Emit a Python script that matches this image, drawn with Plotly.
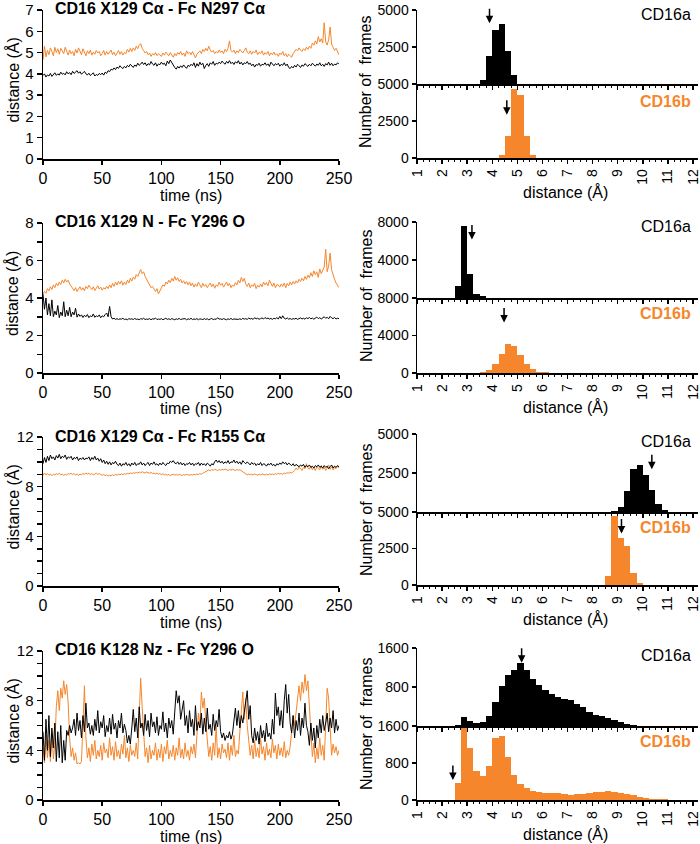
import plotly.graph_objects as go

W, H = 700, 844
FONT = "Liberation Sans, Arial, Helvetica, sans-serif"
BLACK = "#000000"
ORANGE = "#F5862B"

# ---------------- panel titles ----------------
titles = ["CD16 X129 Cα - Fc N297 Cα",
          "CD16 X129 N - Fc Y296 O",
          "CD16 X129 Cα - Fc R155 Cα",
          "CD16 K128 Nz - Fc Y296 O"]

# ---------------- time series (distance, Å; evenly sampled over 0-250 ns) ----------------
ts1_a = [3.92, 4.00, 3.85, 3.95, 3.90, 4.02, 3.88, 3.97, 4.05, 3.93,
         4.00, 3.94, 4.08, 3.98, 4.03, 3.95, 4.10, 4.00, 4.06, 3.96,
         4.12, 4.02, 4.08, 4.15, 4.03, 4.10, 3.98, 4.05, 4.12, 4.00,
         3.95, 4.03, 3.92, 3.98, 4.05, 3.90, 3.97, 3.93, 4.02, 3.96,
         4.04, 3.94, 4.08, 4.02, 4.15, 4.10, 4.22, 4.18, 4.28, 4.20,
         4.32, 4.26, 4.38, 4.30, 4.25, 4.35, 4.28, 4.40, 4.33, 4.45,
         4.36, 4.30, 4.42, 4.35, 4.50, 4.40, 4.46, 4.55, 4.44, 4.52,
         4.38, 4.48, 4.42, 4.58, 4.46, 4.40, 4.52, 4.36, 4.47, 4.43,
         4.55, 4.45, 4.50, 4.38, 4.60, 4.48, 4.65, 4.52, 4.45, 4.30,
         4.22, 4.35, 4.27, 4.38, 4.30, 4.42, 4.33, 4.26, 4.40, 4.35,
         4.45, 4.38, 4.52, 4.30, 4.48, 4.36, 4.55, 4.42, 4.50, 4.25,
         4.40, 4.48, 4.35, 4.52, 4.45, 4.58, 4.40, 4.50, 4.46, 4.55,
         4.48, 4.60, 4.52, 4.45, 4.58, 4.50, 4.62, 4.48, 4.55, 4.44,
         4.57, 4.50, 4.62, 4.46, 4.55, 4.42, 4.52, 4.48, 4.58, 4.45,
         4.50, 4.38, 4.46, 4.32, 4.44, 4.40, 4.50, 4.36, 4.45, 4.42,
         4.52, 4.40, 4.47, 4.35, 4.55, 4.43, 4.38, 4.48, 4.42, 4.50,
         4.36, 4.45, 4.40, 4.52, 4.38, 4.46, 4.30, 4.25, 4.35, 4.28,
         4.40, 4.32, 4.45, 4.38, 4.30, 4.42, 4.36, 4.48, 4.40, 4.35,
         4.45, 4.38, 4.50, 4.42, 4.36, 4.46, 4.40, 4.52, 4.38, 4.45,
         4.35, 4.48, 4.42, 4.55, 4.40, 4.50, 4.38, 4.46, 4.42, 4.52,
         4.45]
ts1_b = [4.65, 5.30, 4.80, 5.10, 4.90, 5.22, 5.05, 4.85, 5.25, 5.00,
         5.18, 4.92, 5.20, 5.08, 4.95, 5.25, 5.02, 4.88, 5.12, 4.95,
         5.05, 4.85, 5.15, 4.98, 5.22, 5.05, 4.90, 5.18, 5.00, 4.85,
         5.08, 4.95, 5.12, 4.88, 5.02, 4.92, 5.10, 4.98, 5.05, 4.85,
         4.95, 5.10, 4.88, 5.05, 4.92, 5.00, 5.12, 4.90, 5.02, 4.85,
         4.98, 5.10, 4.92, 5.05, 4.88, 5.00, 4.95, 5.15, 5.02, 5.20,
         5.05, 5.22, 5.10, 5.30, 5.18, 5.35, 5.42, 5.20, 5.10, 4.98,
         5.05, 4.90, 4.98, 4.82, 4.95, 4.88, 5.00, 4.85, 4.95, 4.90,
         4.82, 4.98, 4.88, 5.02, 4.92, 4.85, 5.00, 4.90, 4.78, 4.95,
         4.85, 5.00, 4.92, 5.05, 4.88, 4.98, 4.82, 5.08, 4.95, 5.02,
         4.90, 5.05, 4.85, 4.75, 4.92, 5.00, 5.08, 4.95, 5.15, 5.05,
         5.20, 5.08, 5.30, 5.12, 5.02, 5.10, 4.95, 5.05, 4.98, 5.12,
         5.00, 5.08, 4.95, 5.15, 5.05, 5.20, 5.55, 5.10, 5.02, 5.12,
         4.95, 5.08, 5.00, 5.15, 5.05, 4.98, 5.10, 5.22, 5.02, 4.95,
         5.08, 4.92, 5.05, 4.98, 5.12, 4.90, 5.02, 4.95, 5.08, 4.88,
         5.00, 4.92, 5.05, 4.85, 4.98, 4.90, 5.02, 4.88, 4.95, 4.82,
         4.98, 4.90, 5.05, 4.85, 4.95, 4.80, 4.92, 4.85, 4.78, 4.95,
         5.05, 5.15, 5.08, 5.22, 5.12, 5.05, 5.18, 5.10, 5.25, 5.15,
         5.30, 5.20, 5.45, 5.35, 5.55, 5.40, 5.75, 5.50, 5.65, 5.45,
         6.40, 5.50, 5.35, 5.60, 6.20, 5.40, 5.25, 5.10, 5.20, 5.00,
         4.90]

ts2_a = [4.20, 3.40, 4.00, 3.10, 3.70, 3.05, 3.90, 3.00, 3.30, 3.10,
         3.60, 2.95, 3.25, 3.05, 3.80, 3.00, 3.35, 3.05, 3.50, 3.00,
         3.25, 3.10, 3.45, 2.98, 3.15, 3.02, 3.10, 2.96, 3.08, 3.00,
         3.12, 2.95, 3.05, 3.00, 3.15, 2.97, 3.05, 3.00, 3.10, 2.95,
         3.05, 3.00, 3.12, 3.20, 3.00, 3.55, 3.00, 2.88, 2.92, 2.86,
         2.90, 2.85, 2.89, 2.87, 2.92, 2.85, 2.88, 2.84, 2.90, 2.87,
         2.89, 2.85, 2.91, 2.86, 2.88, 2.84, 2.90, 2.87, 2.92, 2.85,
         2.88, 2.86, 2.90, 2.84, 2.89, 2.87, 2.93, 2.85, 2.88, 2.86,
         2.90, 2.84, 2.88, 2.92, 2.86, 2.89, 2.85, 2.90, 2.87, 2.84,
         2.89, 2.86, 2.91, 2.85, 2.88, 2.87, 2.90, 2.84, 2.89, 2.86,
         2.92, 2.85, 2.88, 2.86, 2.90, 2.84, 2.89, 2.87, 2.85, 2.90,
         2.86, 2.89, 2.84, 2.88, 2.91, 2.85, 2.88, 2.86, 2.95, 2.87,
         2.89, 2.85, 2.90, 2.87, 2.84, 2.89, 2.86, 2.91, 2.85, 2.88,
         2.87, 2.90, 2.86, 2.89, 2.85, 2.92, 2.87, 2.90, 2.86, 2.93,
         2.88, 2.91, 2.86, 2.95, 2.89, 2.92, 2.87, 2.90, 2.94, 2.88,
         2.96, 2.90, 2.93, 2.88, 2.91, 2.86, 2.92, 2.89, 2.95, 2.88,
         3.02, 2.90, 3.05, 2.92, 2.88, 2.94, 2.87, 2.91, 2.86, 2.90,
         2.88, 2.92, 2.86, 2.90, 2.94, 2.88, 2.92, 2.87, 2.95, 2.90,
         2.96, 2.89, 2.93, 2.87, 2.92, 2.98, 2.90, 2.95, 2.88, 2.93,
         3.00, 2.92, 2.97, 2.89, 3.02, 2.94, 2.90, 2.96, 2.88, 2.92,
         2.90]
ts2_b = [4.20, 4.35, 4.25, 4.50, 4.38, 4.60, 4.45, 4.70, 4.55, 4.78,
         4.65, 4.85, 4.72, 4.95, 4.80, 5.00, 4.85, 4.95, 4.75, 4.62,
         4.50, 4.40, 4.55, 4.35, 4.48, 4.60, 4.42, 4.55, 4.38, 4.62,
         4.50, 4.68, 4.55, 4.45, 4.60, 4.40, 4.52, 4.65, 4.48, 4.58,
         4.42, 4.55, 4.48, 4.62, 4.50, 4.70, 4.55, 4.78, 4.62, 4.85,
         4.70, 4.88, 4.75, 4.92, 4.68, 4.85, 4.72, 4.95, 4.80, 5.05,
         4.90, 5.12, 5.00, 5.25, 5.15, 5.35, 5.52, 5.30, 5.40, 5.15,
         5.00, 4.85, 4.70, 4.55, 4.62, 4.45, 4.35, 4.50, 4.22, 4.38,
         4.55, 4.70, 4.62, 4.85, 4.75, 4.95, 4.82, 5.05, 4.90, 5.15,
         4.95, 5.08, 4.88, 5.00, 4.80, 4.92, 4.75, 4.88, 4.70, 4.85,
         4.65, 4.80, 4.58, 4.75, 4.62, 4.85, 4.70, 4.55, 4.78, 4.62,
         4.72, 4.55, 4.68, 4.80, 4.60, 4.75, 4.52, 4.70, 4.62, 4.85,
         4.68, 4.78, 4.58, 4.72, 4.85, 4.65, 4.78, 4.55, 4.70, 4.62,
         4.82, 4.70, 4.95, 4.80, 5.10, 4.88, 5.05, 4.75, 4.62, 4.80,
         4.55, 4.70, 4.62, 4.78, 4.50, 4.68, 4.58, 4.75, 4.60, 4.85,
         4.70, 4.82, 4.65, 4.95, 4.75, 4.62, 4.80, 4.55, 4.72, 4.68,
         4.58, 4.75, 4.62, 4.80, 4.55, 4.78, 4.65, 4.85, 4.70, 4.88,
         4.75, 4.92, 4.80, 5.00, 4.88, 5.05, 4.92, 5.15, 5.00, 5.22,
         5.08, 5.35, 5.15, 5.45, 5.25, 5.40, 5.10, 5.55, 5.30, 5.45,
         5.65, 6.60, 5.40, 5.70, 6.40, 5.50, 5.20, 5.00, 4.80, 4.65,
         4.55]

ts3_a = [9.85, 10.35, 9.95, 10.45, 10.10, 10.55, 10.25, 10.40, 10.15, 10.50,
         10.30, 10.60, 10.25, 10.45, 10.35, 10.55, 10.20, 10.40, 10.30, 10.45,
         10.15, 10.35, 10.25, 10.40, 10.10, 10.30, 10.20, 10.35, 10.15, 10.30,
         10.25, 10.40, 10.10, 10.35, 10.20, 10.45, 10.15, 10.30, 10.05, 10.25,
         9.95, 10.15, 9.85, 10.05, 9.80, 10.00, 9.75, 9.95, 9.85, 10.05,
         9.80, 9.70, 9.90, 9.65, 9.85, 9.75, 9.95, 9.70, 9.85, 9.65,
         9.90, 9.75, 9.95, 9.70, 9.85, 9.80, 10.00, 9.75, 9.90, 9.70,
         9.85, 9.95, 9.70, 9.90, 9.80, 10.00, 9.75, 9.85, 9.70, 9.90,
         9.75, 9.95, 9.80, 9.70, 9.90, 9.85, 10.05, 9.95, 10.10, 9.90,
         9.85, 10.00, 9.80, 9.95, 9.75, 9.90, 9.70, 9.85, 9.80, 9.95,
         9.75, 9.90, 9.70, 9.85, 9.80, 9.95, 9.70, 9.90, 9.75, 9.85,
         9.70, 9.90, 9.80, 9.65, 9.85, 9.75, 10.00, 10.15, 9.95, 10.10,
         9.90, 10.05, 9.85, 10.00, 9.90, 10.10, 9.85, 10.00, 9.95, 10.15,
         9.90, 10.05, 9.85, 10.00, 9.80, 10.10, 9.95, 9.85, 10.00, 9.90,
         9.75, 9.95, 9.80, 9.90, 9.70, 9.85, 9.75, 9.95, 9.70, 9.85,
         9.80, 9.65, 9.85, 9.75, 9.90, 9.70, 9.80, 9.65, 9.85, 9.75,
         9.90, 9.80, 10.00, 9.85, 9.95, 9.75, 9.90, 9.80, 9.70, 9.85,
         9.65, 9.80, 9.70, 9.60, 9.75, 9.65, 9.80, 9.55, 9.70, 9.60,
         9.75, 9.55, 9.65, 9.50, 9.70, 9.60, 9.75, 9.55, 9.65, 9.50,
         9.70, 9.55, 9.65, 9.45, 9.60, 9.75, 9.50, 9.65, 9.55, 9.70,
         9.60]
ts3_b = [8.90, 9.10, 8.95, 9.05, 8.92, 9.02, 8.88, 9.00, 8.95, 9.05,
         8.98, 9.08, 8.95, 9.02, 8.90, 9.00, 8.95, 9.05, 9.00, 9.08,
         8.98, 9.05, 8.95, 9.02, 8.92, 9.00, 8.96, 9.06, 9.00, 9.10,
         9.02, 9.08, 8.98, 9.05, 8.95, 9.02, 9.08, 9.00, 9.05, 8.98,
         8.92, 8.98, 8.88, 8.95, 8.85, 8.92, 8.88, 8.96, 8.90, 8.98,
         8.92, 9.00, 8.95, 9.03, 8.96, 9.05, 9.00, 9.08, 9.02, 9.10,
         9.05, 9.12, 9.08, 9.15, 9.10, 9.18, 9.12, 9.20, 9.15, 9.10,
         9.18, 9.12, 9.08, 9.15, 9.05, 9.10, 9.02, 9.08, 9.00, 9.05,
         8.98, 9.04, 8.95, 9.00, 8.92, 8.98, 8.90, 8.96, 9.00, 8.94,
         8.98, 8.92, 9.00, 8.95, 8.90, 8.97, 8.93, 9.00, 8.95, 8.92,
         8.98, 8.94, 9.00, 8.96, 9.02, 8.98, 9.05, 9.00, 9.08, 9.15,
         9.22, 9.30, 9.35, 9.28, 9.38, 9.32, 9.40, 9.35, 9.30, 9.38,
         9.32, 9.40, 9.35, 9.42, 9.36, 9.30, 9.38, 9.33, 9.40, 9.35,
         9.30, 9.38, 9.32, 9.36, 9.28, 9.20, 9.10, 9.00, 8.95, 9.02,
         8.96, 9.00, 8.94, 9.02, 8.97, 8.93, 9.00, 8.95, 9.03, 8.98,
         8.94, 9.00, 8.96, 9.04, 8.98, 9.02, 8.95, 9.05, 9.00, 9.08,
         9.02, 9.06, 9.00, 9.10, 9.05, 9.12, 9.08, 9.15, 9.10, 9.20,
         9.30, 9.50, 9.35, 9.60, 9.40, 9.30, 9.55, 9.45, 9.85, 9.50,
         9.40, 9.65, 9.35, 9.55, 9.30, 9.60, 9.45, 9.35, 9.70, 9.40,
         9.55, 9.30, 9.50, 9.75, 9.40, 9.60, 9.35, 9.55, 9.45, 9.65,
         9.50]

ts4_a = [5.5, 3.2, 6.5, 4.0, 6.8, 3.5, 5.8, 4.2, 6.2,
         3.1, 5.5, 3.4, 6.0, 3.0, 4.8, 3.2, 5.6,
         5.2, 6.0, 5.4, 5.8,
         6.5, 5.2, 7.0, 5.6, 6.4, 5.0, 6.8, 5.5, 7.8, 5.8, 6.2, 5.3,
         6.0, 5.2, 6.5, 5.6, 7.2, 5.4, 6.3, 5.8, 6.8, 5.1, 6.0, 5.5, 6.6, 5.3, 6.9, 5.7, 6.2, 5.0,
         6.4, 5.8, 7.0, 5.4, 6.1, 5.6,
         4.6, 5.2, 4.5, 5.8,
         7.3, 5.5, 6.6, 5.0, 7.5, 5.8, 6.2, 5.2, 6.9, 5.6, 6.4, 5.1, 7.0, 5.9, 6.3, 5.4, 6.7, 5.2,
         6.0, 5.7, 7.1, 5.5, 6.2, 5.0, 6.6, 5.8, 6.4, 5.3,
         7.5, 8.8, 7.8, 8.4, 6.5, 7.2, 8.0, 6.0,
         6.8, 5.4, 7.2, 5.9, 6.5, 5.2, 7.6, 5.6, 6.3, 5.8, 7.0, 5.3, 6.6, 5.5, 7.4, 5.7, 6.1, 5.2,
         6.9, 5.6, 6.4, 5.9, 7.3, 5.5,
         5.0, 5.4, 4.8, 5.2, 5.0, 5.5, 4.9, 5.3,
         6.5, 7.4, 6.0, 7.2, 5.8, 6.8, 6.2, 7.0,
         8.2, 8.8, 6.5, 7.6,
         5.2, 4.6, 5.8, 4.8, 5.5, 4.5, 6.0, 5.0, 5.6, 4.7, 6.2, 5.1, 5.4, 4.9, 6.5, 5.3,
         8.6, 6.8, 7.5, 6.0, 7.2, 5.8, 8.0, 9.3, 7.0, 8.5,
         6.2, 5.4, 6.8, 5.0, 6.4, 5.6, 7.0, 5.2, 6.6, 5.8, 7.8, 6.0,
         5.5, 4.4, 6.2, 4.8, 5.8, 4.2, 6.0, 5.0, 6.5, 5.4, 6.8, 5.6,
         6.2, 7.0, 5.5, 6.6, 5.8, 7.2, 5.4, 6.5, 5.6, 6.0]
ts4_b = [4.2, 3.0, 5.2, 3.4, 4.8, 3.1, 5.5, 3.3, 4.5,
         7.5, 8.8, 7.2, 9.0, 8.2, 9.6, 8.5, 9.3, 7.8,
         5.0, 3.5, 4.2, 3.2, 3.8,
         2.9, 3.0, 2.9, 3.1,
         6.5, 9.2, 5.0,
         3.4, 4.2, 3.1, 4.5, 3.6, 4.8, 3.3, 4.0, 3.5, 4.4, 3.2, 4.6, 3.8, 4.1, 3.4, 5.0, 3.6, 4.3,
         3.2, 4.7, 3.5, 4.0, 3.3, 4.5, 3.7, 5.2, 3.4, 4.2, 3.1, 4.4, 3.6, 4.0, 3.5, 4.6, 3.3,
         6.8, 9.8, 7.5, 5.0,
         3.5, 4.2, 3.0, 4.4, 3.3, 4.0, 3.6, 4.6, 3.2, 4.1, 3.4, 4.5, 3.1, 4.3, 3.7, 4.8, 3.3, 4.0,
         3.5, 4.4, 3.2, 4.2, 3.6, 5.0, 3.4, 4.1, 3.3, 4.6, 3.5, 4.0, 3.2, 4.3, 3.7, 4.5, 3.4,
         5.2, 7.0, 6.0, 8.7, 7.4, 8.2, 6.2, 4.8,
         3.5, 4.3, 3.2, 4.6, 3.6, 6.0, 3.4, 4.2, 3.3, 4.5, 3.8, 4.1, 3.4, 4.6, 3.2, 4.4, 3.6, 5.2,
         3.5, 4.0, 3.7,
         5.5, 7.2, 8.7, 6.5, 8.2, 6.0, 4.5,
         3.6, 4.4, 3.3, 4.8, 3.5, 4.2, 3.4, 5.0, 3.7, 4.3, 3.2, 4.6, 3.6, 4.1, 3.4, 4.9, 3.8, 4.4,
         3.3, 4.5, 3.6, 4.2, 3.5, 4.7, 3.4, 4.0, 3.6, 4.3,
         5.5, 6.8, 6.0, 7.2,
         8.4, 9.2, 8.0, 9.5, 8.6, 10.1, 8.8, 9.6, 7.5,
         5.5, 3.5, 4.6, 3.0, 4.2, 3.3, 5.0, 3.6, 4.4, 3.2,
         6.0, 9.0, 8.2, 5.5,
         3.6, 4.5, 3.8, 4.3, 3.6, 4.0]

# ---------------- histograms (0.25 Å bins; first bin left edge, counts) ----------------
BIN = 0.25
h1_a_start, h1_a = 3.5, [250, 1860, 3650, 4040, 2200, 630]
h1_b_start, h1_b = 4.25, [180, 1500, 4660, 4280, 1500, 225]
h2_a_start, h2_a = 2.5, [1220, 7580, 2540, 420, 170, 50]
h2_b_start, h2_b = 3.5, [100, 290, 1000, 2080, 3080, 2900, 1900, 930, 390, 140, 60, 40, 30, 25]
h3_a_start, h3_a = 8.75, [60, 320, 1340, 2740, 3020, 2370, 1400, 540, 150]
h3_b_start, h3_b = 8.25, [30, 640, 4700, 3230, 2660, 800, 160]
h4_a_start, h4_a = 2.5, [30, 186, 97, 62, 76, 200, 497, 820, 1050, 1150, 1300, 1150, 960, 835,
                         738, 655, 600, 552, 530, 448, 380, 297, 235, 207, 172, 117, 83, 41, 20, 5]
h4_b_start, h4_b = 2.5, [373, 1565, 1115, 630, 517, 732, 1350, 1380, 920, 550, 345, 250, 200, 172,
                         158, 158, 144, 130, 115, 130, 137, 150, 165, 180, 187, 172, 150, 130, 100,
                         72, 43, 29, 15, 15]

# mean-value arrows (x in Å, y tip in frames)
arrow_a_x = [3.89, 3.19, 10.36, 5.17]
arrow_a_y = [4100, 6160, 2740, 1300]
arrow_b_x = [4.58, 4.47, 9.15, 2.43]
arrow_b_y = [2930, 5380, 3520, 430]

# axis scales
left_ymax = [7, 8, 12, 12]
left_dtick = [1, 2, 4, 4]
right_ymax = [5000, 8000, 5000, 1600]
right_xticks = list(range(1, 13))

# ---------------- layout geometry (pixels) ----------------
left_rows = [(10, 159), (223, 373), (437, 586), (651, 800)]
right_rows = [(10, 84, 158), (222, 298, 373), (434, 512, 585), (648, 726, 800)]
title_y = [8.5, 221.5, 436, 649]
cd16a_y = [14, 227, 441, 655]
cd16b_y = [101, 313, 527, 741]
LX0, LX1 = 43, 339
RX0, RX1 = 417, 698


def fx(p):
    return p / W


def fy(p):
    return 1 - p / H


def t_grid(n):
    return [250.0 * i / (n - 1) for i in range(n)]


def centers(start, vals):
    return [start + BIN * (i + 0.5) for i in range(len(vals))]


series = [(ts1_a, ts1_b), (ts2_a, ts2_b), (ts3_a, ts3_b), (ts4_a, ts4_b)]
hists = [((h1_a_start, h1_a), (h1_b_start, h1_b)),
         ((h2_a_start, h2_a), (h2_b_start, h2_b)),
         ((h3_a_start, h3_a), (h3_b_start, h3_b)),
         ((h4_a_start, h4_a), (h4_b_start, h4_b))]

fig = go.Figure()
layout = dict(width=W, height=H, margin=dict(l=0, r=0, t=0, b=0), template="none",
              showlegend=False, plot_bgcolor="white", paper_bgcolor="white",
              font=dict(family=FONT, color="black"), bargap=0, hovermode=False)
annotations = []

axis_common = dict(showline=True, linecolor="black", linewidth=1.5, ticks="outside",
                   tickcolor="black", tickwidth=1.5, showgrid=False, zeroline=False,
                   automargin=False, fixedrange=True)


def axname(n, kind):
    return kind + ("axis" if n == 1 else "axis%d" % n)


def ref(n, kind):
    return kind if n == 1 else "%s%d" % (kind, n)


for r in range(4):
    nL, nT, nB = 3 * r + 1, 3 * r + 2, 3 * r + 3
    top, bot = left_rows[r]
    a, b = series[r]
    fig.add_trace(go.Scatter(x=t_grid(len(b)), y=b, mode="lines",
                             line=dict(color=ORANGE, width=1), xaxis=ref(nL, "x"), yaxis=ref(nL, "y")))
    fig.add_trace(go.Scatter(x=t_grid(len(a)), y=a, mode="lines",
                             line=dict(color=BLACK, width=1), xaxis=ref(nL, "x"), yaxis=ref(nL, "y")))
    layout[axname(nL, "x")] = dict(axis_common, domain=[fx(LX0), fx(LX1)], range=[0, 250],
                                   anchor=ref(nL, "y"), tickvals=[0, 50, 100, 150, 200, 250],
                                   ticklen=4, tickfont=dict(size=16, family=FONT))
    yl = dict(axis_common, domain=[fy(bot), fy(top)], range=[0, left_ymax[r]],
              anchor=ref(nL, "x"), tick0=0, dtick=left_dtick[r], ticklen=5,
              tickfont=dict(size=15, family=FONT))
    if left_dtick[r] > 1:
        yl["minor"] = dict(dtick=1, ticklen=5, ticks="outside", tickcolor="black", tickwidth=1.5)
    layout[axname(nL, "y")] = yl

    rt, rm, rb = right_rows[r]
    (sa, va), (sb, vb) = hists[r]
    fig.add_trace(go.Bar(x=centers(sa, va), y=va, width=BIN, marker=dict(color=BLACK, line=dict(width=0)),
                         xaxis=ref(nT, "x"), yaxis=ref(nT, "y")))
    fig.add_trace(go.Bar(x=centers(sb, vb), y=vb, width=BIN, marker=dict(color=ORANGE, line=dict(width=0)),
                         xaxis=ref(nB, "x"), yaxis=ref(nB, "y")))
    ymax = right_ymax[r]
    xr = dict(axis_common, domain=[fx(RX0), fx(RX1)], range=[1, 12.2], tickvals=right_xticks,
              ticktext=[str(v) for v in right_xticks], ticklabeloverflow="allow",
              ticklen=4, minor=dict(dtick=0.25, tick0=1, ticklen=2.5, ticks="outside",
                                    tickcolor="black", tickwidth=1))
    layout[axname(nT, "x")] = dict(xr, anchor=ref(nT, "y"), showticklabels=False)
    layout[axname(nB, "x")] = dict(xr, anchor=ref(nB, "y"), tickangle=-90,
                                   tickfont=dict(size=14, family=FONT))
    layout[axname(nT, "y")] = dict(axis_common, domain=[fy(rm), fy(rt)], range=[0, ymax],
                                   anchor=ref(nT, "x"), tickvals=[ymax / 2, ymax],
                                   ticktext=[str(int(ymax / 2)), str(ymax)], ticklen=4,
                                   tickfont=dict(size=14, family=FONT))
    layout[axname(nB, "y")] = dict(axis_common, domain=[fy(rb), fy(rm)], range=[0, ymax],
                                   anchor=ref(nB, "x"), tickvals=[0, ymax / 2, ymax],
                                   ticktext=["0", str(int(ymax / 2)), str(ymax)], ticklen=4,
                                   tickfont=dict(size=14, family=FONT))

    annotations.append(dict(x=arrow_a_x[r], y=arrow_a_y[r], xref=ref(nT, "x"), yref=ref(nT, "y"),
                            text="", showarrow=True, arrowhead=2, arrowsize=1, arrowwidth=1.5,
                            arrowcolor="black", ax=0, ay=-16))
    annotations.append(dict(x=arrow_b_x[r], y=arrow_b_y[r], xref=ref(nB, "x"), yref=ref(nB, "y"),
                            text="", showarrow=True, arrowhead=2, arrowsize=1, arrowwidth=1.5,
                            arrowcolor="black", ax=0, ay=-16))

    annotations.append(dict(x=fx(53), y=fy(title_y[r]), xref="paper", yref="paper",
                            text="<b>%s</b>" % titles[r], showarrow=False, xanchor="left",
                            yanchor="middle", font=dict(size=16, family=FONT, color="black")))
    annotations.append(dict(x=fx(693), y=fy(cd16a_y[r]), xref="paper", yref="paper",
                            text="CD16a", showarrow=False, xanchor="right", yanchor="middle",
                            font=dict(size=16, family=FONT, color="black")))
    annotations.append(dict(x=fx(693), y=fy(cd16b_y[r]), xref="paper", yref="paper",
                            text="<b>CD16b</b>", showarrow=False, xanchor="right", yanchor="middle",
                            font=dict(size=16, family=FONT, color=ORANGE)))
    annotations.append(dict(x=fx(12), y=fy((top + bot) / 2 - 4), xref="paper", yref="paper",
                            text="distance (Å)", textangle=-90, showarrow=False,
                            xanchor="center", yanchor="middle", font=dict(size=16, family=FONT)))
    annotations.append(dict(x=fx((LX0 + LX1) / 2), y=fy(bot + 36), xref="paper", yref="paper",
                            text="time (ns)", showarrow=False, xanchor="center", yanchor="middle",
                            font=dict(size=16, family=FONT)))
    annotations.append(dict(x=fx(366), y=fy(rm - 2), xref="paper", yref="paper",
                            text="Number of&nbsp; frames", textangle=-90, showarrow=False,
                            xanchor="center", yanchor="middle", font=dict(size=16, family=FONT)))
    annotations.append(dict(x=fx(565), y=fy(rb + 34), xref="paper", yref="paper",
                            text="distance (Å)", showarrow=False, xanchor="center", yanchor="middle",
                            font=dict(size=16, family=FONT)))

layout["annotations"] = annotations
fig.update_layout(**layout)
fig.write_html("out.html", config={"displayModeBar": False, "staticPlot": True},
               post_script="document.body.style.margin='0';document.body.style.padding='0';"
                           "document.documentElement.style.overflow='hidden';"
                           "document.body.style.overflow='hidden';")
